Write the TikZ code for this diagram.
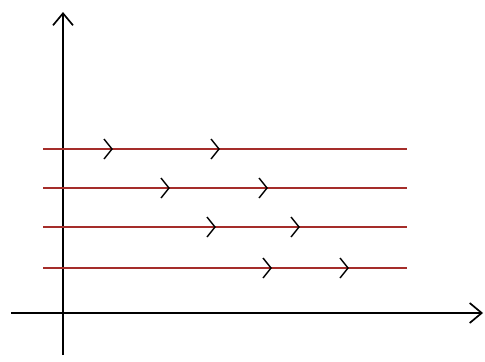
\documentclass[tikz,border=0pt]{standalone}
\usepackage{tikz}
\usetikzlibrary{arrows.meta}
\definecolor{FlowRed}{RGB}{165,45,42}

\begin{document}
\begin{tikzpicture}[x=0.5mm,y=-0.5mm,>={Straight Barb[length=6mm,width=10mm]}]
      \useasboundingbox (0,0) rectangle (485,361);
      \coordinate (ox) at (11,313);
      \coordinate (ex) at (483,313);
      \coordinate (oy) at (63,355);
      \coordinate (ey) at (63,12);
      \draw[->,line width=2.4pt] (ox)--(ex);
      \draw[->,line width=2.4pt] (oy)--(ey);
      \foreach \y/\a/\b in {149/112/219,188/169/267,227/215/299,268/271/348}{
        \draw[FlowRed,line width=2.2pt] (43,\y)--(407,\y);
        \draw[line width=2pt] (\a-8,\y-10)--(\a,\y)--(\a-8,\y+10);
        \draw[line width=2pt] (\b-8,\y-10)--(\b,\y)--(\b-8,\y+10);}
    \end{tikzpicture}
\end{document}
